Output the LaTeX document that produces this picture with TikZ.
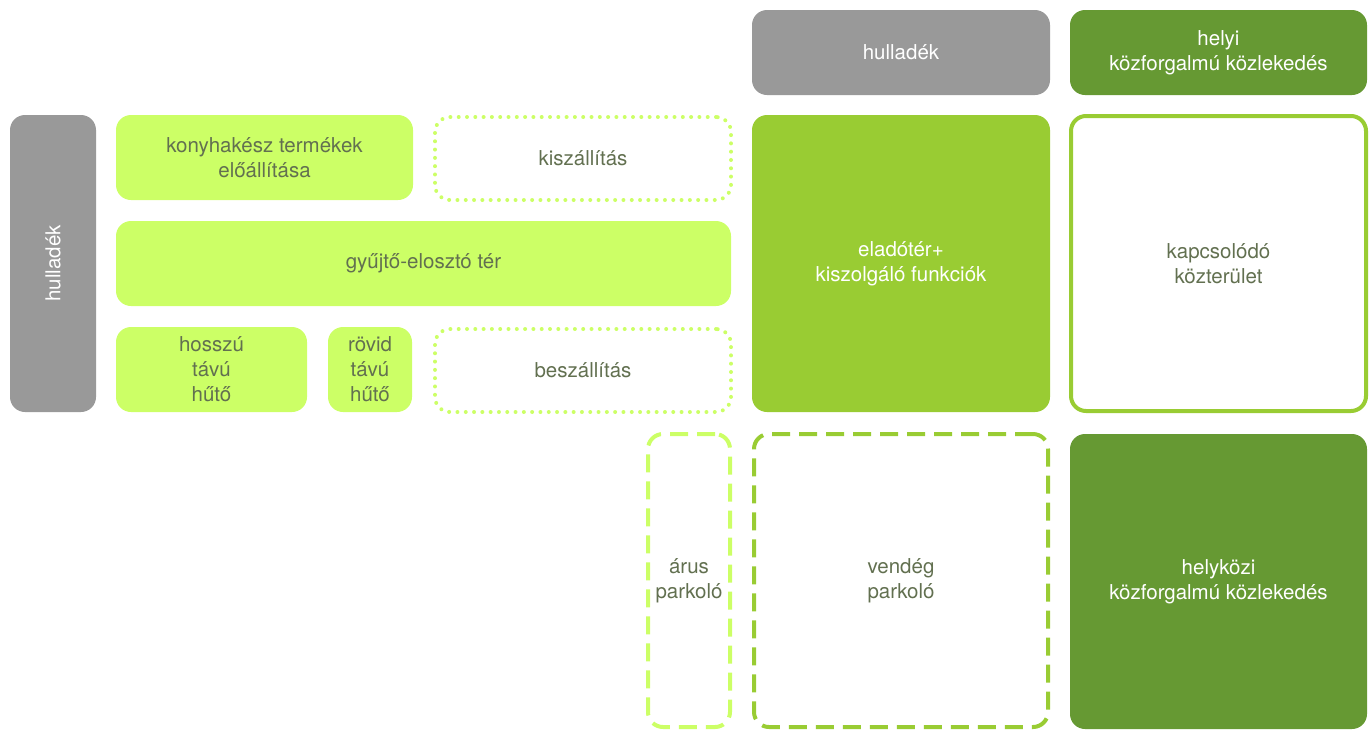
\documentclass[tikz,border=0pt]{standalone}
\usepackage{fontspec}
\setmainfont{TeX Gyre Heros}
\definecolor{lgreen}{HTML}{CCFF66}
\definecolor{mgreen}{HTML}{99CC33}
\definecolor{dgreen}{HTML}{669933}
\definecolor{gbox}{HTML}{999999}
\definecolor{txt}{HTML}{627050}
\begin{document}
\begin{tikzpicture}[x=1pt,y=-1pt,
  base/.style={rounded corners=15pt, inner sep=0pt, outer sep=0pt, align=center,
    font=\fontsize{20.5}{25}\selectfont},
  graybox/.style={base, fill=gbox, text=white},
  darkbox/.style={base, fill=dgreen, text=white},
  midbox/.style={base, fill=mgreen, text=white},
  lightbox/.style={base, fill=lgreen, text=txt},
  dotbox/.style={base, draw=lgreen, line width=4pt, dash pattern=on 0pt off 8.3pt, line cap=round, text=txt},
  outbox/.style={base, draw=mgreen, line width=4pt, text=txt},
  dashlight/.style={base, draw=lgreen, line width=4pt, dash pattern=on 18pt off 9pt, text=txt},
  dashmid/.style={base, draw=mgreen, line width=4pt, dash pattern=on 18pt off 9pt, text=txt}
]
\useasboundingbox (0,0) rectangle (1370,729);
% top row
\node[graybox, minimum width=298pt, minimum height=85pt] (hullT) at (901,52.5) {hulladék};
\node[darkbox, minimum width=297pt, minimum height=85pt] (helyi) at (1218.5,52.5) {helyi\\közforgalmú közlekedés};
% left gray
\node[graybox, minimum width=86pt, minimum height=297pt] (hullL) at (53,263.5) {};
\node[text=white, rotate=90, font=\fontsize{20.5}{25}\selectfont] (hullLt) at (hullL.center) {hulladék};
% light boxes
\node[lightbox, minimum width=297pt, minimum height=85pt] (konyha) at (264.5,157.5) {konyhakész termékek\\előállítása};
\node[dotbox, minimum width=296pt, minimum height=83pt] (ki) at (583,158.5) {kiszállítás};
\node[lightbox, minimum width=615pt, minimum height=85pt] (gyujto) at (423.5,263.5) {gyűjtő-elosztó tér};
\node[lightbox, minimum width=191pt, minimum height=85pt] (hosszu) at (211.5,369.5) {hosszú\\távú\\hűtő};
\node[lightbox, minimum width=84pt, minimum height=85pt] (rovid) at (370,369.5) {rövid\\távú\\hűtő};
\node[dotbox, minimum width=296pt, minimum height=83pt] (be) at (583,370.5) {beszállítás};
% right blocks
\node[midbox, minimum width=298pt, minimum height=297pt] (elado) at (901,263.5) {eladótér+\\kiszolgáló funkciók};
\node[outbox, minimum width=295pt, minimum height=295pt] (kapcs) at (1218.5,263.5) {kapcsolódó\\közterület};
% bottom
\node[dashlight, minimum width=82pt, minimum height=293pt] (arus) at (689,580.5) {árus\\parkoló};
\node[dashmid, minimum width=294pt, minimum height=293pt] (vendeg) at (901,580.5) {vendég\\parkoló};
\node[darkbox, minimum width=297pt, minimum height=295pt] (helykozi) at (1218.5,581.5) {helyközi\\közforgalmú közlekedés};
\end{tikzpicture}
\end{document}
